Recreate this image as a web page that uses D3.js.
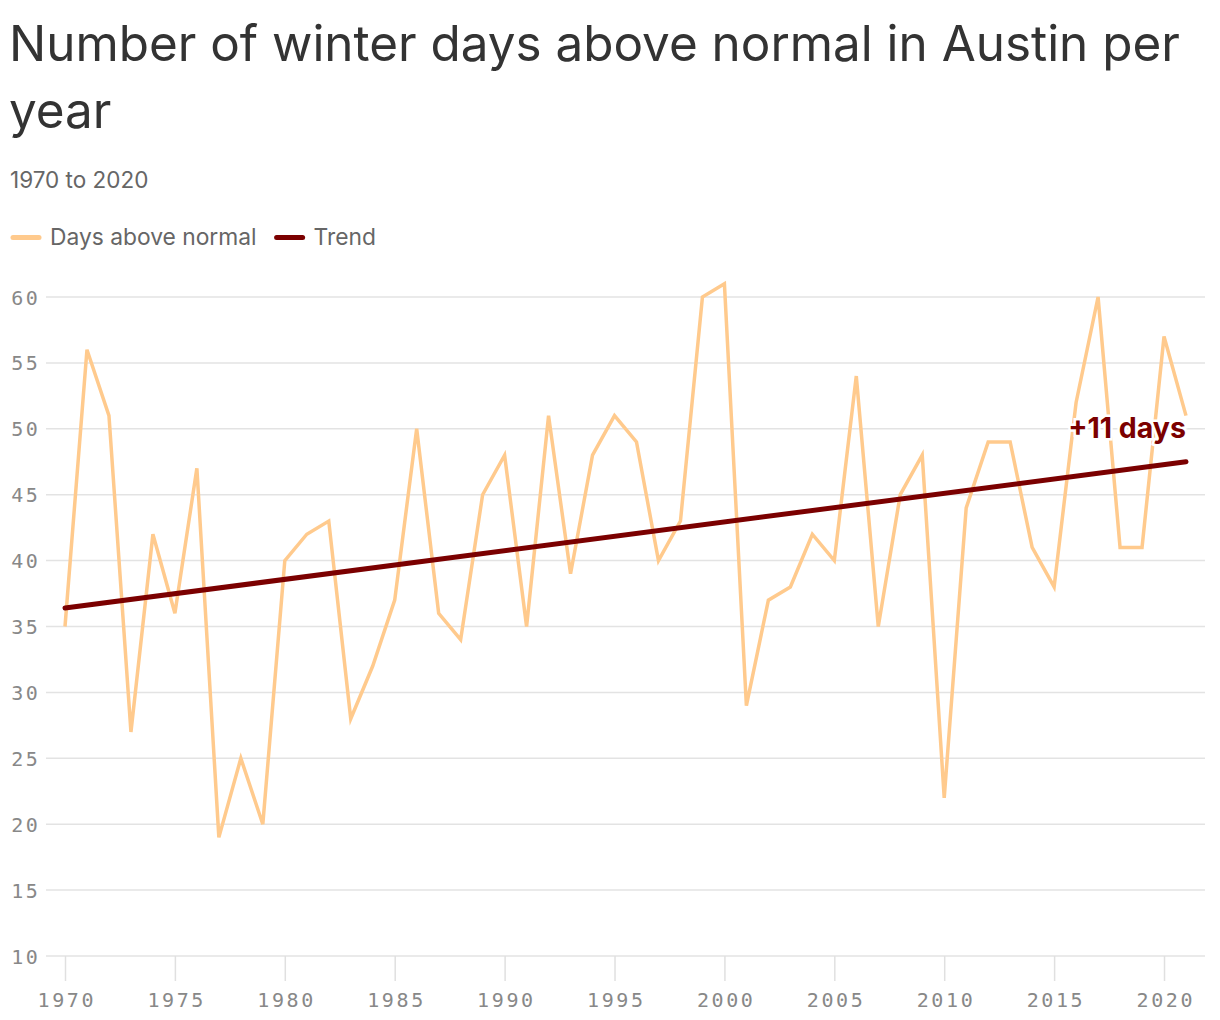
<!DOCTYPE html>
<html><head><meta charset="utf-8">
<script src="https://cdn.jsdelivr.net/npm/d3@7"></script>
<style>
body{margin:0;background:#fff;}
svg{display:block;}
</style></head>
<body>
<svg id="chart" width="1220" height="1020"></svg>
<script>
const years = d3.range(1970, 2022);
const daysAboveNormal = [35,56,51,27,42,36,47,19,25,20,40,42,43,28,32,37,50,36,34,45,48,35,51,39,48,51,49,40,43,60,61,29,37,38,42,40,54,35,45,48,22,44,49,49,41,38,52,60,41,41,57,51];
const trendStart = 36.4, trendEnd = 47.5;
const yTicks = [10,15,20,25,30,35,40,45,50,55,60];
const xTicks = [1970,1975,1980,1985,1990,1995,2000,2005,2010,2015,2020];
const titleLines = ["Number of winter days above normal in Austin per","year"];
const subtitle = "1970 to 2020";
const legendItems = ["Days above normal","Trend"];
const annotation = "+11 days";

const svg = d3.select("#chart");
const sans = "Inter, 'Liberation Sans', Arial, sans-serif";
const mono = "'DejaVu Sans Mono', monospace";

const x = d3.scaleLinear().domain([1970, 2021]).range([65, 1186]);
const y = d3.scaleLinear().domain([10, 60]).range([956, 297]);

// title
svg.append("g").selectAll("text").data(titleLines).join("text")
  .attr("x", 9).attr("y", (d,i)=>61+i*67)
  .attr("font-family", sans).attr("font-size", 49.4).attr("fill", "#333")
  .text(d=>d);
svg.append("text").attr("x",10).attr("y",188).attr("font-family",sans)
  .attr("font-size",22.5).attr("fill","#666").text(subtitle);

// legend
const legColors = ["#ffca8d","#7b0000"];
const leg = svg.append("g");
leg.append("line").attr("x1",13).attr("x2",39).attr("y1",237.5).attr("y2",237.5)
  .attr("stroke",legColors[0]).attr("stroke-width",5).attr("stroke-linecap","round");
const t1 = leg.append("text").attr("x",50).attr("y",245).attr("font-family",sans).attr("font-size",22.8)
  .attr("fill","#666").text(legendItems[0]);
const w1 = t1.node().getComputedTextLength();
const l2x = 50 + w1 + 17;
leg.append("line").attr("x1",l2x+3).attr("x2",l2x+29).attr("y1",237.5).attr("y2",237.5)
  .attr("stroke",legColors[1]).attr("stroke-width",5).attr("stroke-linecap","round");
leg.append("text").attr("x",l2x+40).attr("y",245).attr("font-family",sans).attr("font-size",22.8)
  .attr("fill","#666").text(legendItems[1]);

// grid + y axis
const yAxis = d3.axisLeft(y).tickValues(yTicks).tickSize(0).tickPadding(0);
const gy = svg.append("g").attr("transform","translate(40.5,0)").call(yAxis);
gy.select(".domain").remove();
gy.selectAll("text").attr("font-family",mono).attr("font-size",20).attr("fill","#888")
  .attr("letter-spacing",2.6).attr("dy","0.35em");
svg.append("g").selectAll("line").data(yTicks).join("line")
  .attr("x1",46).attr("x2",1205).attr("y1",d=>y(d)).attr("y2",d=>y(d))
  .attr("stroke","#e3e3e3").attr("stroke-width",1.5);

// x axis
const xAxis = d3.axisBottom(x).tickValues(xTicks).tickFormat(d3.format("d")).tickSize(25).tickPadding(12);
const gx = svg.append("g").attr("transform",`translate(0,${y(10)})`).call(xAxis);
gx.select(".domain").remove();
gx.selectAll(".tick line").attr("stroke","#e0e0e0").attr("stroke-width",1.5);
gx.selectAll("text").attr("font-family",mono).attr("font-size",20).attr("fill","#888")
  .attr("letter-spacing",2.6).attr("dx","1.3");

// data line
const line = d3.line().x((d,i)=>x(years[i])).y(d=>y(d));
svg.append("path").datum(daysAboveNormal).attr("d",line)
  .attr("fill","none").attr("stroke","#ffca8d").attr("stroke-width",3.5).attr("stroke-linejoin","miter");

// trend
svg.append("line").attr("x1",x(1970)).attr("x2",x(2021)).attr("y1",y(trendStart)).attr("y2",y(trendEnd))
  .attr("stroke","#7b0000").attr("stroke-width",5).attr("stroke-linecap","round");

// annotation
svg.append("text").attr("x",x(2021)).attr("y",y(50)+9).attr("text-anchor","end")
  .attr("font-family",sans).attr("font-weight","bold").attr("font-size",28.5)
  .attr("fill","#7b0000").attr("stroke","#fff").attr("stroke-width",5).attr("paint-order","stroke")
  .text(annotation);
</script>
</body></html>
